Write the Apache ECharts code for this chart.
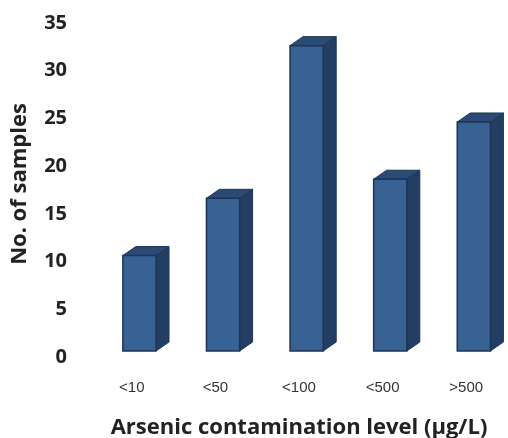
<!DOCTYPE html>
<html>
<head>
<meta charset="utf-8">
<script src="https://cdn.jsdelivr.net/npm/echarts@6/dist/echarts.min.js"></script>
<style>
	html, body { margin: 0; padding: 0; background: #fff; }
	#chart { width: 508px; height: 438px; }
</style>
</head>
<body>
<div id="chart"></div>
<script>
	// data
	var levels = ['<10', '<50', '<100', '<500', '>500'];
	var samples = [10, 16, 32, 18, 24];
	var yTicks = [0, 5, 10, 15, 20, 25, 30, 35];

	var boldFont = '"Open Sans", "DejaVu Sans", sans-serif';

	// 3d looking column: front face, top face, side face
	function renderBox(params, api) {
		var top = api.coord([api.value(0), api.value(1)]);
		var base = api.coord([api.value(0), 0]);
		var band = api.size([1, 0])[0];
		var x0 = top[0] - band * 0.107;
		var x1 = top[0] + band * 0.29;
		var dx = band * 0.155;
		var dy = 9;
		var line = '#1d3557';
		return {
			type: 'group',
			children: [
				{
					type: 'polygon',
					shape: { points: [[x1, top[1]], [x1 + dx, top[1] - dy], [x1 + dx, base[1] - dy], [x1, base[1]]] },
					style: { fill: '#223f63', stroke: line, lineWidth: 1 }
				},
				{
					type: 'polygon',
					shape: { points: [[x0, top[1]], [x0 + dx, top[1] - dy], [x1 + dx, top[1] - dy], [x1, top[1]]] },
					style: { fill: '#2b4a74', stroke: line, lineWidth: 1 }
				},
				{
					type: 'rect',
					shape: { x: x0, y: top[1], width: x1 - x0, height: base[1] - top[1] },
					style: { fill: '#386293', stroke: line, lineWidth: 1.5 }
				}
			]
		};
	}

	var chart = echarts.init(document.getElementById('chart'));
	var option = {
		animation: false,
		grid: { left: 90, right: 0, top: 17, bottom: 87, outerBoundsMode: 'none', containLabel: false },
		xAxis: {
			type: 'category',
			data: levels,
			axisLine: { show: false },
			axisTick: { show: false },
			axisLabel: { margin: 29, fontSize: 15, color: '#333', fontFamily: '"Liberation Sans", Arial, sans-serif' },
			name: 'Arsenic contamination level (µg/L)',
			nameLocation: 'middle',
			nameGap: 66,
			nameTextStyle: { fontSize: 22, fontWeight: 'bold', color: '#222', fontFamily: boldFont }
		},
		yAxis: {
			type: 'value',
			min: yTicks[0],
			max: yTicks[yTicks.length - 1],
			interval: yTicks[1] - yTicks[0],
			axisLine: { show: false },
			axisTick: { show: false },
			splitLine: { show: false },
			axisLabel: { margin: 23, fontSize: 20, fontWeight: 'bold', color: '#222', fontFamily: boldFont, verticalAlign: 'top', lineHeight: 12 },
			name: 'No. of samples',
			nameLocation: 'middle',
			nameGap: 59,
			nameTextStyle: { fontSize: 22, fontWeight: 'bold', color: '#222', fontFamily: boldFont }
		},
		series: [{
			type: 'custom',
			renderItem: renderBox,
			data: samples.map(function (v, i) { return [i, v]; })
		}]
	};
	chart.setOption(option);
</script>
</body>
</html>
